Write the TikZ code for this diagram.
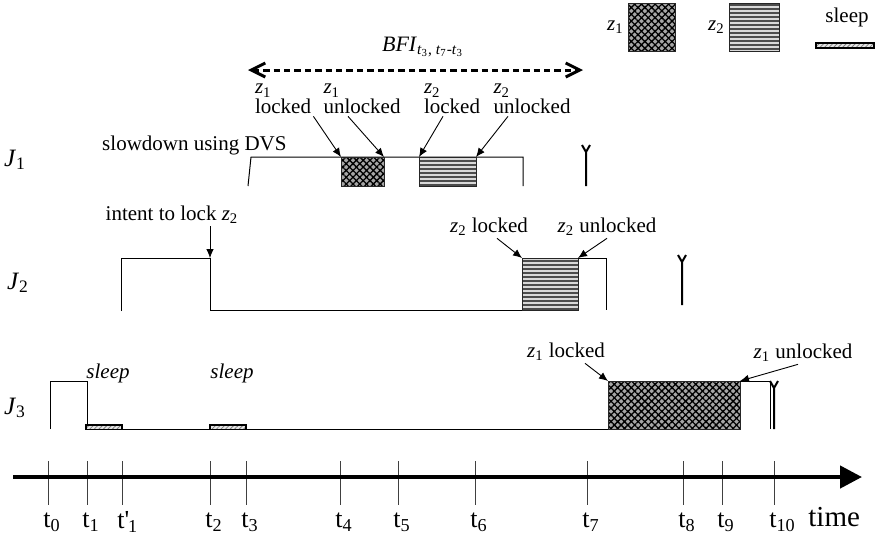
\documentclass[tikz,border=0pt]{standalone}
\usepackage{fontspec}
\setmainfont{Liberation Serif}
\usetikzlibrary{positioning}
\usetikzlibrary{arrows.meta}
\usetikzlibrary{patterns,patterns.meta}

\newcommand{\zsub}[1]{\textit{z}\textsubscript{#1}}
\newcommand{\tsub}[1]{t\textsubscript{#1}}
\newcommand{\jsub}[1]{\textit{J}\textsubscript{#1}}
\newcommand{\tprime}{t\textquotesingle\kern-0.05em\textsubscript{1}}

\begin{document}
\begin{tikzpicture}[x=0.5pt,y=-0.5pt,
  every node/.style={font=\fontsize{10.5}{10}\selectfont, inner sep=1pt},
  box/.style={draw=black!85, line width=0.5pt, inner sep=0pt, outer sep=0pt, anchor=north west},
  zone/.style={box, preaction={fill=gray!70}, pattern={Hatch[angle=45,distance=2.4pt,line width=0.65pt]}, pattern color=black},
  ztwo/.style={box, preaction={fill=gray!30}, pattern={Lines[angle=0,distance=2pt,line width=0.6pt]}, pattern color=black!70},
  sleepbar/.style={box, line width=0.7pt, draw=black, preaction={fill=gray!20}, pattern={Lines[angle=45,distance=1.6pt,line width=0.4pt]}, pattern color=gray},
  prof/.style={black, line width=0.5pt},
  note/.style={black, line width=0.45pt, -{Latex[length=4.5pt,width=3.8pt]}},
  dl/.style={black, line width=1pt},
  tick/.style={black!75, line width=0.5pt},
  job/.style={font=\fontsize{12.5}{12}\selectfont},
  tlab/.style={font=\fontsize{13}{13}\selectfont, anchor=west, inner sep=0pt}
]
\useasboundingbox (0,0) rectangle (876,537);

% legend
\node[zone, minimum width=23.5pt, minimum height=24pt] (lz1) at (628,3) {};
\node[left=1pt of lz1] (lz1t) {\zsub{1}};
\node[ztwo, minimum width=25pt, minimum height=24pt] (lz2) at (729,3) {};
\node[left=1pt of lz2] (lz2t) {\zsub{2}};
\node[sleepbar, minimum width=29pt, minimum height=2.5pt] (lsl) at (816,43) {};
\node (lslt) at (847,17) {sleep};

% blocking interval
\coordinate (bl) at (248,70);
\coordinate (br) at (583,70);
\draw[line width=1.5pt, dash pattern=on 3.2pt off 2pt,
      {Straight Barb[length=7pt,width=7pt]}-{Straight Barb[length=7pt,width=7pt]}] (bl) -- (br);
\node[font=\fontsize{11}{11}\selectfont] (bfi) at (423,47)
  {\textit{BFI}\textsubscript{\textit{t}\textsubscript{3}, \textit{t}\textsubscript{7}-\textit{t}\textsubscript{3}}};

% J1
\node[job] (j1) at (15,160) {\jsub{1}};
\node[anchor=south east] (dvs) at (289,157) {slowdown using DVS};
\draw[prof] (248,186) -- (251,157) -- (523,157) -- (523,186);
\node[zone, minimum width=21.5pt, minimum height=14.5pt] (a1) at (341,157) {};
\node[ztwo, minimum width=28.5pt, minimum height=14.5pt] (a2) at (419,157) {};
\node[align=left] (n1) at (283,99) {\zsub{1}\\locked};
\node[align=left] (n2) at (362,99) {\zsub{1}\\unlocked};
\node[align=left] (n3) at (452,99) {\zsub{2}\\locked};
\node[align=left] (n4) at (532,99) {\zsub{2}\\unlocked};
\draw[note] (n1.south east) -- (a1.north west);
\draw[note] ([xshift=-7pt]n2.south) -- (a1.north east);
\draw[note] ([xshift=-4.5pt]n3.south) -- (a2.north west);
\draw[note] ([xshift=-12pt]n4.south) -- (a2.north east);

% J2
\node[job] (j2) at (18,283) {\jsub{2}};
\coordinate (c2) at (210,258);
\draw[prof] (121,311) -- (121,258) -- (c2) -- (210,310) -- (522,310);
\node[ztwo, minimum width=28pt, minimum height=26pt] (b2) at (522,258) {};
\draw[prof] (b2.north east) -- (606,258) -- (606,310);
\node (it) at (172,215) {intent to lock \zsub{2}};
\draw[note] ([xshift=19pt]it.south) -- (c2);
\node (m1) at (489,227) {\zsub{2} locked};
\node (m2) at (607,227) {\zsub{2} unlocked};
\draw[note] ([xshift=4pt]m1.south) -- (b2.north west);
\draw[note] (m2.south) -- (b2.north east);

% J3
\node[job] (j3) at (15,408) {\jsub{3}};
\draw[prof] (50,429) -- (50,381) -- (87,381) -- (87,429) -- (608,429);
\node[sleepbar, minimum width=18pt, minimum height=2.3pt] (s1) at (86,425) {};
\node[sleepbar, minimum width=18pt, minimum height=2.3pt] (s2) at (210,425) {};
\node[font=\fontsize{10.5}{10}\selectfont\itshape] (s1t) at (108,373) {sleep};
\node[font=\fontsize{10.5}{10}\selectfont\itshape] (s2t) at (232,373) {sleep};
\node[zone, minimum width=66pt, minimum height=24pt] (b3) at (608,381) {};
\draw[prof] (b3.north east) -- (770,381) -- (770,429);
\node (k1) at (566,352) {\zsub{1} locked};
\node (k2) at (803,353) {\zsub{1} unlocked};
\draw[note] ([xshift=9.5pt]k1.south) -- (b3.north west);
\draw[note] ([xshift=-2.5pt]k2.south) -- (b3.north east);

% deadlines
\foreach \x/\a/\b in {586/186/152, 682/305/262, 774/429/388}
  \draw[dl] (\x,\a) -- (\x,\b) -- +(-4,-7) (\x,\b) -- +(4,-7);

% time axis
\coordinate (ax0) at (13,477);
\coordinate (ax1) at (862,477);
\foreach \x/\lab/\nm in {48/\tsub{0}/t0, 87/\tsub{1}/t1, 122/\tprime/t1p, 210/\tsub{2}/t2,
    246/\tsub{3}/t3, 340/\tsub{4}/t4, 398/\tsub{5}/t5, 475/\tsub{6}/t6, 587/\tsub{7}/t7,
    683/\tsub{8}/t8, 722/\tsub{9}/t9, 774/\tsub{10}/t10}{
  \draw[tick] (\x,461) -- (\x,505);
  \node[tlab] (\nm) at (\x-5,522) {\lab};
}
\draw[line width=2.2pt, -{Triangle[length=11pt,width=11pt]}] (ax0) -- (ax1);
\node[font=\fontsize{14.5}{14}\selectfont, anchor=west, inner sep=0pt] (time) at (808,517) {time};
\end{tikzpicture}
\end{document}
